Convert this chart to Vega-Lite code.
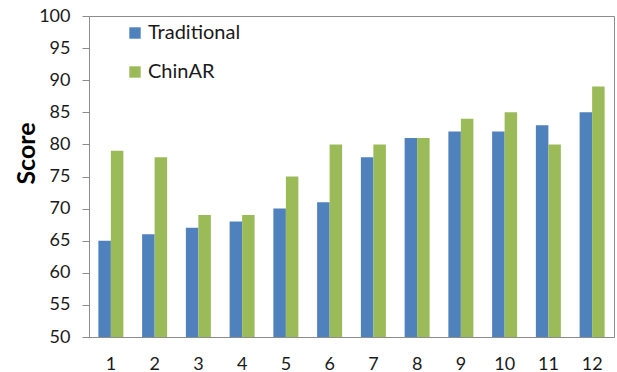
{
  "$schema": "https://vega.github.io/schema/vega-lite/v6.json",
  "width": 525,
  "height": 321,
  "autosize": {"type": "none"},
  "padding": {"left": 89, "top": 16, "right": 3, "bottom": 35},
  "background": "white",
  "config": {
    "font": "Lato",
    "view": {"stroke": "#8c8c8c", "strokeWidth": 1}
  },
  "data": {
    "values": [
      {"trial": 1, "method": "Traditional", "score": 65},
      {"trial": 1, "method": "ChinAR", "score": 79},
      {"trial": 2, "method": "Traditional", "score": 66},
      {"trial": 2, "method": "ChinAR", "score": 78},
      {"trial": 3, "method": "Traditional", "score": 67},
      {"trial": 3, "method": "ChinAR", "score": 69},
      {"trial": 4, "method": "Traditional", "score": 68},
      {"trial": 4, "method": "ChinAR", "score": 69},
      {"trial": 5, "method": "Traditional", "score": 70},
      {"trial": 5, "method": "ChinAR", "score": 75},
      {"trial": 6, "method": "Traditional", "score": 71},
      {"trial": 6, "method": "ChinAR", "score": 80},
      {"trial": 7, "method": "Traditional", "score": 78},
      {"trial": 7, "method": "ChinAR", "score": 80},
      {"trial": 8, "method": "Traditional", "score": 81},
      {"trial": 8, "method": "ChinAR", "score": 81},
      {"trial": 9, "method": "Traditional", "score": 82},
      {"trial": 9, "method": "ChinAR", "score": 84},
      {"trial": 10, "method": "Traditional", "score": 82},
      {"trial": 10, "method": "ChinAR", "score": 85},
      {"trial": 11, "method": "Traditional", "score": 83},
      {"trial": 11, "method": "ChinAR", "score": 80},
      {"trial": 12, "method": "Traditional", "score": 85},
      {"trial": 12, "method": "ChinAR", "score": 89}
    ]
  },
  "mark": {"type": "bar", "clip": true},
  "encoding": {
    "x": {
      "field": "trial",
      "type": "ordinal",
      "scale": {"paddingInner": 0.4286, "paddingOuter": 0.2143},
      "axis": {
        "title": null,
        "labelAngle": 0,
        "ticks": false,
        "labelPadding": 18,
        "labelFontSize": 18,
        "labelColor": "#1a1a1a",
        "domainColor": "#8c8c8c",
        "grid": false
      }
    },
    "xOffset": {
      "field": "method",
      "type": "nominal",
      "sort": ["Traditional", "ChinAR"],
      "scale": {"paddingInner": 0, "paddingOuter": 0}
    },
    "y": {
      "field": "score",
      "type": "quantitative",
      "scale": {"domain": [50, 100], "nice": false, "zero": false},
      "axis": {
        "title": "Score",
        "titleFontSize": 25,
        "titleFontWeight": "bold",
        "titleColor": "#000000",
        "titleX": -63,
        "titleY": 137,
        "titleBaseline": "middle",
        "titleAlign": "center",
        "titleAngle": -90,
        "values": [50, 55, 60, 65, 70, 75, 80, 85, 90, 95, 100],
        "labelFontSize": 18,
        "labelColor": "#1a1a1a",
        "labelPadding": 12,
        "tickSize": 7,
        "tickColor": "#8c8c8c",
        "domainColor": "#8c8c8c",
        "grid": false
      }
    },
    "color": {
      "field": "method",
      "type": "nominal",
      "sort": ["Traditional", "ChinAR"],
      "scale": {"domain": ["Traditional", "ChinAR"], "range": ["#4F81BD", "#9BBB59"]},
      "legend": {
        "title": null,
        "orient": "none",
        "legendX": 36,
        "legendY": 7,
        "symbolType": "square",
        "symbolSize": 130,
        "symbolStrokeWidth": 0,
        "labelFontSize": 20,
        "labelColor": "#1a1a1a",
        "labelOffset": 3,
        "rowPadding": 19
      }
    }
  }
}
